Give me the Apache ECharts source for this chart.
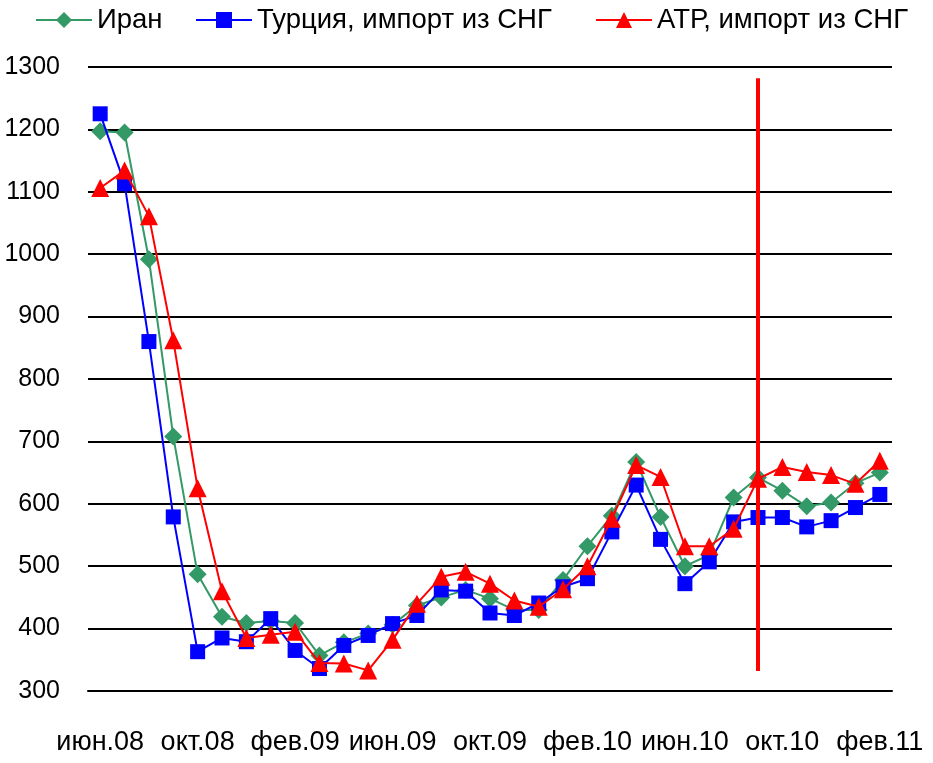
<!DOCTYPE html>
<html>
<head>
<meta charset="utf-8">
<script src="https://cdn.jsdelivr.net/npm/echarts@6/dist/echarts.min.js"></script>
<style>
html,body{margin:0;padding:0;background:#fff;}
#chart{width:933px;height:763px;}
</style>
</head>
<body>
<div id="chart"></div>
<script>
const categories = [
  'июн.08','июл.08','авг.08','сен.08','окт.08','ноя.08','дек.08','янв.09',
  'фев.09','мар.09','апр.09','май.09','июн.09','июл.09','авг.09','сен.09',
  'окт.09','ноя.09','дек.09','янв.10','фев.10','мар.10','апр.10','май.10',
  'июн.10','июл.10','авг.10','сен.10','окт.10','ноя.10','дек.10','янв.11','фев.11'
];
const seriesNames = ['Иран', 'Турция, импорт из СНГ', 'АТР, импорт из СНГ'];
const iran = [1197,1195,992,708,487,419,409,412,409,357,378,392,406,437,450,462,448,430,430,478,532,581,667,579,500,518,610,642,621,596,602,633,650];
const turkey = [1225,1113,860,579,363,385,379,416,365,336,373,389,408,421,462,460,425,421,441,467,480,555,630,543,472,507,571,578,578,563,573,594,615];
const atp = [1106,1134,1061,862,625,460,385,390,395,345,344,333,382,440,483,491,472,445,435,463,500,576,662,643,532,532,560,640,659,651,646,632,669];
const yTicks = { min: 300, max: 1300, interval: 100 };
const markerCategory = 'сен.10';
const markerRange = [1282, 332];

const chart = echarts.init(document.getElementById('chart'));
const font = 'Liberation Sans, Arial, sans-serif';
const legendLefts = [30, 190, 590];
const legends = seriesNames.map(function (name, i) {
  return {
    top: 1,
    left: legendLefts[i],
    itemWidth: 56,
    itemHeight: 20,
    textStyle: { fontFamily: font, fontSize: 27.5, color: '#000' },
    data: [name]
  };
});
chart.setOption({
  animation: false,
  backgroundColor: '#ffffff',
  legend: legends,
  grid: { left: 88, right: 41, top: 67, bottom: 72 },
  xAxis: {
    type: 'category',
    data: categories,
    boundaryGap: true,
    axisLine: { lineStyle: { color: '#000', width: 2 } },
    axisTick: { interval: 3, length: 8, lineStyle: { color: '#000', width: 2 } },
    axisLabel: { interval: 3, margin: 38, fontFamily: font, fontSize: 27, color: '#000' },
    splitLine: { show: false }
  },
  yAxis: {
    type: 'value',
    min: yTicks.min, max: yTicks.max, interval: yTicks.interval,
    axisLine: { show: false },
    axisTick: { show: false },
    axisLabel: { margin: 28, fontFamily: font, fontSize: 25, color: '#000',
      formatter: function (v) { return String(v); } },
    splitLine: { lineStyle: { color: '#000', width: 2 } }
  },
  series: [
    {
      name: seriesNames[0], type: 'line', data: iran,
      symbol: 'diamond', symbolSize: 18, showAllSymbol: true,
      itemStyle: { color: '#339966' },
      lineStyle: { color: '#339966', width: 2 },
      z: 3
    },
    {
      name: seriesNames[1], type: 'line', data: turkey,
      symbol: 'rect', symbolSize: 15, showAllSymbol: true,
      itemStyle: { color: '#0000ff' },
      lineStyle: { color: '#0000ff', width: 2 },
      z: 4
    },
    {
      name: seriesNames[2], type: 'line', data: atp,
      symbol: 'triangle', symbolSize: 18, showAllSymbol: true,
      itemStyle: { color: '#ff0000' },
      lineStyle: { color: '#ff0000', width: 2 },
      z: 5,
      markLine: {
        silent: true,
        symbol: 'none',
        label: { show: false },
        lineStyle: { color: '#ff0000', width: 4, type: 'solid' },
        data: [[
          { coord: [markerCategory, markerRange[0]] },
          { coord: [markerCategory, markerRange[1]] }
        ]]
      }
    }
  ]
});
</script>
</body>
</html>
